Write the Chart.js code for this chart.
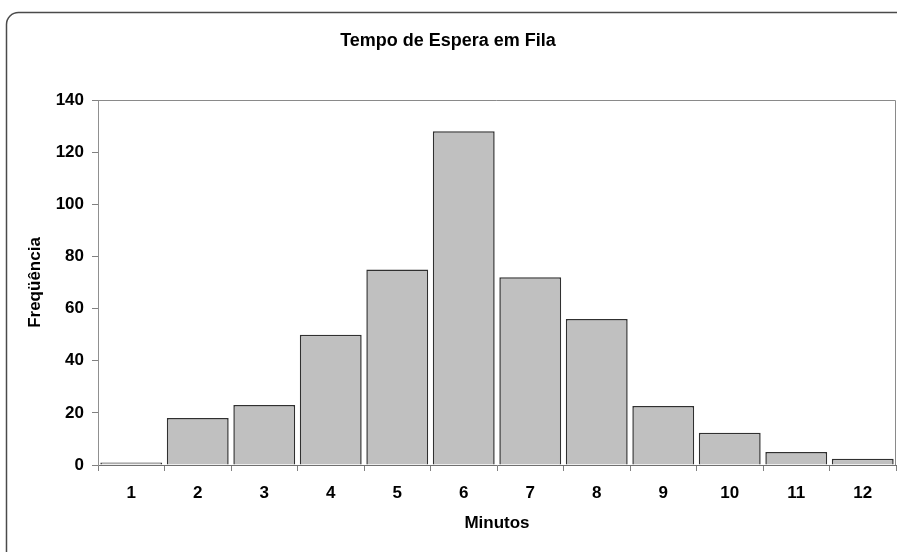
<!DOCTYPE html>
<html>
<head>
<meta charset="utf-8">
<script src="https://cdn.jsdelivr.net/npm/chart.js@4"></script>
<style>
    html, body { margin: 0; padding: 0; background: #fff; }
    #wrap { width: 897px; height: 552px; }
</style>
</head>
<body>
<div id="wrap"><canvas id="graph-container" width="897" height="552"></canvas></div>
<script>
"use strict"

// dados
const minutos = ["1", "2", "3", "4", "5", "6", "7", "8", "9", "10", "11", "12"]
const frequencia = [1, 18, 23, 50, 75, 128, 72, 56, 22.6, 12.4, 5, 2.4]
const yTicks = [0, 20, 40, 60, 80, 100, 120, 140]

const fontFam = "'Liberation Sans Narrow', 'Liberation Sans', Arial, sans-serif"

// moldura arredondada + borda da area do grafico
const frame = {
    id: "frame",
    beforeDraw: (chart) => {
        const c = chart.ctx
        c.save()
        c.fillStyle = "#fff"
        c.fillRect(0, 0, chart.width, chart.height)
        c.strokeStyle = "#4a4a4a"
        c.lineWidth = 1.5
        c.beginPath()
        c.roundRect(6.5, 12.5, 910, 560, 12)
        c.stroke()
        c.restore()
    },
    afterDatasetsDraw: (chart) => {
        const a = chart.chartArea
        const c = chart.ctx
        c.save()
        c.strokeStyle = "#8a8a8a"
        c.lineWidth = 1
        c.beginPath()
        c.moveTo(a.left, a.top + 0.5)
        c.lineTo(a.right - 0.5, a.top + 0.5)
        c.lineTo(a.right - 0.5, a.bottom)
        c.stroke()
        c.restore()
    }
}

const ctx = document.getElementById("graph-container").getContext("2d")
const myChart = new Chart(ctx, {
    type: "bar",
    data: {
        labels: minutos,
        datasets: [{
            label: "Freqüência",
            data: frequencia,
            backgroundColor: "#c0c0c0",
            borderColor: "#303030",
            borderWidth: 1.5,
            barPercentage: 0.93,
            categoryPercentage: 1
        }]
    },
    options: {
        responsive: false,
        animation: false,
        layout: { padding: { left: 0, right: 1, top: 0, bottom: 0 } },
        scales: {
            x: {
                offset: true,
                afterFit: (s) => { s.height = 87 },
                grid: { offset: true, drawOnChartArea: false, tickLength: 6, color: "#808080" },
                border: { color: "#707070", width: 1 },
                ticks: { color: "#000", padding: 12, font: { family: fontFam, size: 17, weight: "bold" } },
                title: {
                    display: true, text: "Minutos", color: "#000",
                    font: { family: fontFam, size: 17, weight: "bold" },
                    padding: { top: 0, bottom: 18 }
                }
            },
            y: {
                min: 0, max: 140,
                afterFit: (s) => { s.width = 98 },
                afterBuildTicks: (s) => { s.ticks = yTicks.map(v => ({ value: v })) },
                grid: { drawOnChartArea: false, tickLength: 6, color: "#808080" },
                border: { color: "#909090", width: 1 },
                ticks: { color: "#000", padding: 8, font: { family: fontFam, size: 17, weight: "bold" } },
                title: {
                    display: true, text: "Freqüência", color: "#000",
                    font: { family: fontFam, size: 17, weight: "bold" },
                    padding: { top: 25, bottom: 0 }
                }
            }
        },
        plugins: {
            legend: { display: false },
            tooltip: { enabled: false },
            title: {
                display: true,
                text: "Tempo de Espera em Fila",
                color: "#000",
                font: { family: fontFam, size: 18, weight: "bold" },
                padding: { top: 30, bottom: 48.4 }
            }
        }
    },
    plugins: [frame]
})
</script>
</body>
</html>
